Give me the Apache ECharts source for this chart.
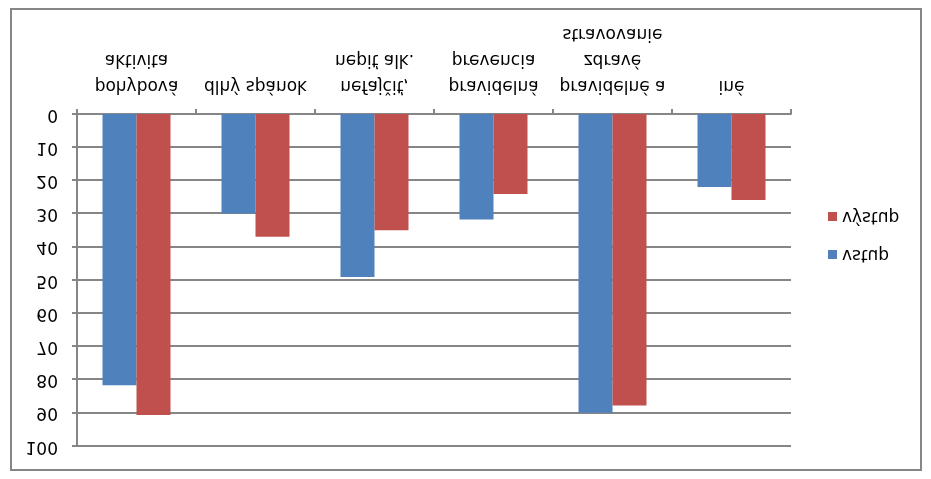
<!DOCTYPE html>
<html>
<head>
<meta charset="utf-8">
<script src="https://cdn.jsdelivr.net/npm/echarts@6/dist/echarts.min.js"></script>
<style>
    html, body { margin: 0; padding: 0; background: #fff; }
    /* the reference is the Excel chart turned upside down */
    #chart { width: 931px; height: 479px; transform: scaleY(-1); }
</style>
</head>
<body>
<div id="chart"></div>
<script>
// kategórie a hodnoty
var categories = ['pohybová\naktivita', 'dlhý spánok', 'nefajčiť,\nnepiť alk.', 'pravidelná\nprevencia', 'pravidelné a\nzdravé\nstravovanie', 'iné'];
var vstup = [81.7, 30, 49.1, 31.8, 90, 22];
var vystup = [90.7, 37, 35, 24.1, 87.8, 25.9];
var seriesNames = ['vstup', 'výstup'];

var gray = '#868686';
var font = 'DejaVu Sans';

var myChart = echarts.init(document.getElementById('chart'));

var option = {
    animation: false,
    textStyle: { fontFamily: font, color: '#000' },
    graphic: [{
        type: 'rect',
        shape: { x: 11, y: 9, width: 910, height: 461 },
        style: { fill: 'none', stroke: gray, lineWidth: 2 }
    }],
    grid: { left: 77, right: 140, top: 33, bottom: 114 },
    legend: {
        orient: 'vertical',
        left: 823,
        top: 211,
        itemWidth: 9,
        itemHeight: 9,
        itemGap: 21,
        icon: 'rect',
        textStyle: { fontFamily: font, fontSize: 17, color: '#000' },
        data: seriesNames
    },
    xAxis: {
        type: 'category',
        data: categories,
        axisLine: { lineStyle: { color: gray, width: 2 } },
        axisTick: { show: true, length: 5, lineStyle: { color: gray, width: 2 } },
        axisLabel: { fontFamily: font, fontSize: 17, color: '#000', lineHeight: 26, margin: 16, interval: 0 }
    },
    yAxis: {
        type: 'value',
        min: 0,
        max: 100,
        interval: 10,
        axisLine: { show: true, lineStyle: { color: gray, width: 2 } },
        axisTick: { show: true, length: 5, lineStyle: { color: gray, width: 2 } },
        axisLabel: { fontFamily: font, fontSize: 17, color: '#000', margin: 19 },
        splitLine: { lineStyle: { color: gray, width: 2 } }
    },
    series: [
        { name: seriesNames[0], type: 'bar', data: vstup, barWidth: 34, barGap: '0%', itemStyle: { color: '#4F81BD' } },
        { name: seriesNames[1], type: 'bar', data: vystup, barWidth: 34, barGap: '0%', itemStyle: { color: '#C0504D' } }
    ]
};

myChart.setOption(option);
</script>
</body>
</html>
